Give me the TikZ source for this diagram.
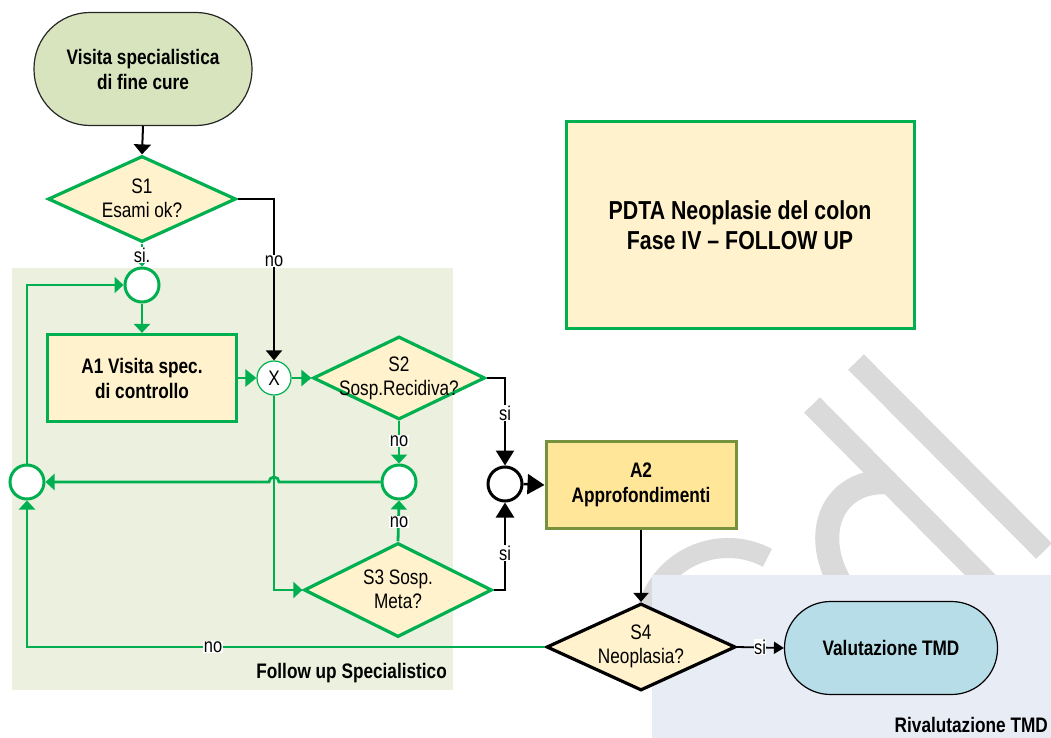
\documentclass[tikz,border=0pt]{standalone}
\usepackage{fontspec}
\setmainfont{Liberation Sans}[FakeStretch=0.82]
\usetikzlibrary{arrows.meta,shapes.geometric,calc}

\definecolor{flowgreen}{RGB}{0,176,80}
\definecolor{lanegreen}{RGB}{235,241,222}
\definecolor{laneblue}{RGB}{232,236,244}
\definecolor{startfill}{RGB}{215,228,189}
\definecolor{paleyellow}{RGB}{255,242,204}
\definecolor{goldfill}{RGB}{255,230,153}
\definecolor{olivegreen}{RGB}{118,146,60}
\definecolor{tmdblue}{RGB}{183,222,232}
\definecolor{markgray}{RGB}{218,218,218}

\begin{document}
\begin{tikzpicture}[x=1pt,y=-1pt,
  plaintext/.style={font=\fontsize{21}{24}\selectfont, align=center, inner sep=0pt, text=black},
  boldtext/.style={font=\fontsize{21}{25}\selectfont\bfseries, align=center, text=black},
  decision/.style={diamond, draw=flowgreen, line width=3.2pt, fill=paleyellow, inner sep=0pt},
  activity/.style={rectangle, draw=flowgreen, line width=3.2pt, fill=paleyellow, boldtext},
  terminal/.style={rectangle, boldtext, line width=1.2pt, draw=black!85},
  junction/.style={circle, draw=flowgreen, line width=3pt, fill=white, inner sep=0pt, minimum size=34pt},
  gflow/.style={draw=flowgreen, line width=2.8pt, -{Triangle[length=9pt,width=16pt]}},
  gplain/.style={draw=flowgreen, line width=2.8pt},
  bflow/.style={draw=black, line width=2.4pt, -{Triangle[length=15pt,width=18pt]}},
  edgelabel/.style={fill=white, inner sep=1pt, font=\fontsize{20}{22}\selectfont, text=black},
  lanetitle/.style={font=\fontsize{21}{25}\selectfont\bfseries, inner sep=0pt, text=black},
]
\useasboundingbox (0,0) rectangle (1051,738);
\fill[white] (0,0) rectangle (1051,738);

% faint letters in the background
\begin{scope}[draw=markgray, line cap=butt]
  \draw[line width=22pt] (856,362) -- (1044,551);
  \draw[line width=22pt] (812,405) -- (1000,595);
  \begin{scope}
    \clip (712,304) -- (1100,696) -- (600,696) -- (600,304) -- cycle;
    \draw[line width=24pt, rotate around={-45:(905,560)}] (905,560) ellipse[x radius=88pt, y radius=66pt];
  \end{scope}
  \draw[line width=20pt] (728,632) ++(62:84pt) arc[start angle=62, end angle=250, radius=84pt];
\end{scope}

% swimlanes
\fill[lanegreen] (12,268) rectangle (453,690);
\fill[laneblue] (652,575) rectangle (1051,738);
\node[lanetitle, anchor=base east] (lanefu) at (447,678) {Follow up Specialistico};
\node[lanetitle, anchor=base east] (lanetmd) at (1048,732) {Rivalutazione TMD};

% title box
\node[rectangle, draw=flowgreen, line width=3pt, fill=paleyellow,
      minimum width=348pt, minimum height=207pt,
      font=\fontsize{26}{30}\selectfont\bfseries, align=center] (title) at (740,225)
      {PDTA Neoplasie del colon\\Fase IV -- FOLLOW UP};

% nodes
\node[terminal, fill=startfill, minimum width=218pt, minimum height=113pt, rounded corners=56pt] (start) at (143,69) {Visita specialistica\\di fine cure};

\node[decision, minimum width=188pt, minimum height=86pt] (s1) at (142,199) {};
\node[plaintext] (s1t) at (142,198) {S1\\Esami ok?};

\node[junction] (c1) at (142,285) {};
\node[activity, minimum width=189pt, minimum height=87pt] (a1) at (142,378) {A1 Visita spec.\\di controllo};
\node[junction, line width=1.2pt, font=\fontsize{21}{24}\selectfont] (x) at (274,378) {X};

\node[decision, minimum width=172pt, minimum height=83pt] (s2) at (399,378) {};
\node[plaintext] (s2t) at (399,378) {S2\\Sosp.Recidiva?};

\node[junction] (c3) at (399,482) {};
\node[junction] (c2) at (27,482) {};

\node[decision, minimum width=188pt, minimum height=94pt] (s3) at (398,590) {};
\node[plaintext] (s3t) at (398,589) {S3 Sosp.\\Meta?};

\node[junction, draw=black] (j) at (505,484) {};

\node[rectangle, draw=olivegreen, line width=3pt, fill=goldfill, boldtext,
      minimum width=190pt, minimum height=87pt] (a2) at (641,485) {A2\\Approfondimenti};

\node[decision, draw=black, minimum width=189pt, minimum height=87pt] (s4) at (641,647) {};
\node[plaintext] (s4t) at (641,646) {S4\\Neoplasia?};

\node[terminal, draw=black, fill=tmdblue, minimum width=213pt, minimum height=93pt, rounded corners=46pt] (tmd) at (891,648) {Valutazione TMD};

% connectors
\draw[bflow, line width=2pt, -{Triangle[length=10pt,width=17pt]}] (start.south) -- (s1.north);
\draw[bflow, line width=2pt, -{Triangle[length=10pt,width=16pt]}] (s1.east) -| (x.north);
\draw[gflow] (s1.south) -- (c1.north);
\draw[gflow] (c1.south) -- (a1.north);
\draw[gflow, -{Triangle[length=11pt,width=17pt]}] (a1.east) -- (x.west);
\draw[gflow, -{Triangle[length=10pt,width=16pt]}] (x.east) -- (s2.west);
\draw[gflow] (s2.south) -- (c3.north);
\draw[gflow] (s3.north) -- (c3.south);
\draw[gflow] (c3.west) -- ($(x.center |- c3.west)+(5pt,0)$)
  arc[start angle=0, end angle=180, radius=5pt] -- (c2.east);
\draw[gflow] (x.south) |- (s3.west);
\draw[bflow] (s2.east) -| (j.north);
\draw[bflow] (s3.east) -| (j.south);
\draw[bflow, -{Triangle[length=17pt,width=20pt]}] (j.east) -- (a2.west);
\draw[bflow, line width=2pt, -{Triangle[length=9pt,width=15pt]}] (a2.south) -- (s4.north);
\draw[bflow, line width=1.8pt, -{Triangle[length=10pt,width=12pt]}] (s4.east) -- (tmd.west);
\draw[gflow] (s4.west) -| (c2.south);
\draw[gflow] (c2.north) |- (c1.west);

% connector labels
\node[edgelabel] (l1) at (274,261) {no};
\node[edgelabel] (l2) at (142,255) {si.};
\node[edgelabel] (l3) at (399,441) {no};
\node[edgelabel] (l4) at (399,522) {no};
\node[edgelabel] (l5) at (505,413) {si};
\node[edgelabel] (l6) at (505,553) {si};
\node[edgelabel] (l7) at (213,647) {no};
\node[edgelabel, inner sep=0.5pt] (l8) at (760,647) {si};
\end{tikzpicture}
\end{document}
